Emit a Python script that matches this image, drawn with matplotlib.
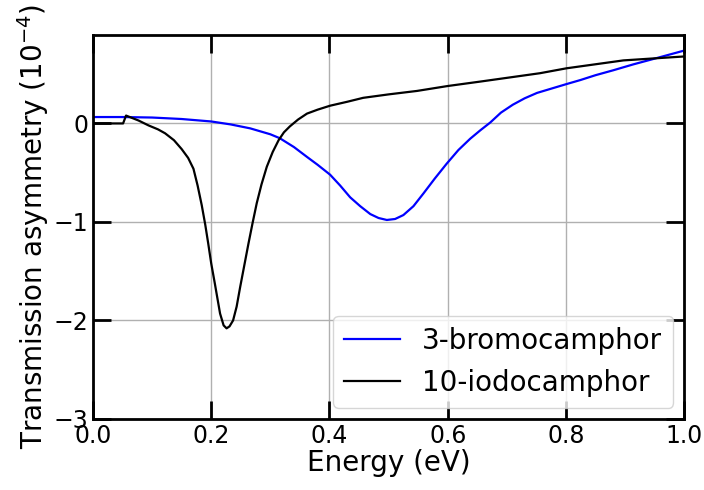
import matplotlib
matplotlib.use("Agg")
import matplotlib.pyplot as plt

# 3-bromocamphor
bromo_energy = [0.0, 0.05, 0.1, 0.15, 0.2, 0.233, 0.266, 0.3, 0.316, 0.34, 0.362, 0.38,
                0.401, 0.418, 0.435, 0.452, 0.469, 0.483, 0.497, 0.511, 0.525, 0.542,
                0.559, 0.578, 0.598, 0.618, 0.638, 0.655, 0.672, 0.69, 0.71, 0.73, 0.751,
                0.776, 0.801, 0.824, 0.85, 0.88, 0.914, 0.948, 1.0]
bromo_asym = [0.065, 0.065, 0.06, 0.045, 0.02, -0.01, -0.05, -0.11, -0.15, -0.24, -0.34, -0.42,
              -0.52, -0.63, -0.75, -0.84, -0.92, -0.96, -0.98, -0.97, -0.93, -0.84,
              -0.71, -0.56, -0.41, -0.27, -0.155, -0.07, 0.01, 0.11, 0.19, 0.255, 0.31,
              0.355, 0.40, 0.44, 0.49, 0.54, 0.6, 0.655, 0.74]

# 10-iodocamphor
iodo_energy = [0.0, 0.051, 0.056, 0.077, 0.094, 0.11, 0.122, 0.137, 0.15, 0.161, 0.17, 0.177,
               0.184, 0.19, 0.195, 0.2, 0.206, 0.215, 0.221, 0.226, 0.231, 0.237, 0.243,
               0.249, 0.256, 0.263, 0.27, 0.277, 0.285, 0.294, 0.304, 0.314, 0.323, 0.333,
               0.347, 0.362, 0.38, 0.401, 0.43, 0.457, 0.5, 0.548, 0.6, 0.655, 0.756,
               0.801, 0.897, 0.948, 1.0]
iodo_asym = [0.0, 0.0, 0.08, 0.03, -0.02, -0.06, -0.10, -0.17, -0.26, -0.35, -0.46, -0.63,
             -0.83, -1.03, -1.22, -1.42, -1.62, -1.93, -2.05, -2.08, -2.06, -2.0, -1.86,
             -1.66, -1.44, -1.22, -1.01, -0.81, -0.62, -0.44, -0.29, -0.17, -0.09, -0.03,
             0.04, 0.10, 0.14, 0.18, 0.22, 0.26, 0.295, 0.33, 0.38, 0.425, 0.51,
             0.56, 0.64, 0.66, 0.68]

x_ticks = [0.0, 0.2, 0.4, 0.6, 0.8, 1.0]
y_ticks = [-3, -2, -1, 0]

fig = plt.figure(figsize=(7.04, 4.9), dpi=100)
ax = fig.add_axes([0.132, 0.145, 0.84, 0.784])

ax.plot(bromo_energy, bromo_asym, color='blue', linewidth=1.6, label='3-bromocamphor')
ax.plot(iodo_energy, iodo_asym, color='black', linewidth=1.6, label='10-iodocamphor')

ax.set_xlim(0, 1)
ax.set_ylim(-3, 0.9)
ax.set_xticks(x_ticks)
ax.set_yticks(y_ticks)
ax.grid(True, color='#b0b0b0', linewidth=1)

ax.tick_params(direction='in', length=13, width=2, top=True, right=True, labelsize=17)
for s in ax.spines.values():
    s.set_linewidth(2)

ax.set_xlabel('Energy (eV)', fontsize=20, labelpad=1)
ax.set_ylabel('Transmission asymmetry ($10^{-4}$)', fontsize=20, labelpad=2)
ax.legend(loc='lower right', fontsize=20, borderaxespad=0.4)

fig.savefig('out.png', dpi=100)
